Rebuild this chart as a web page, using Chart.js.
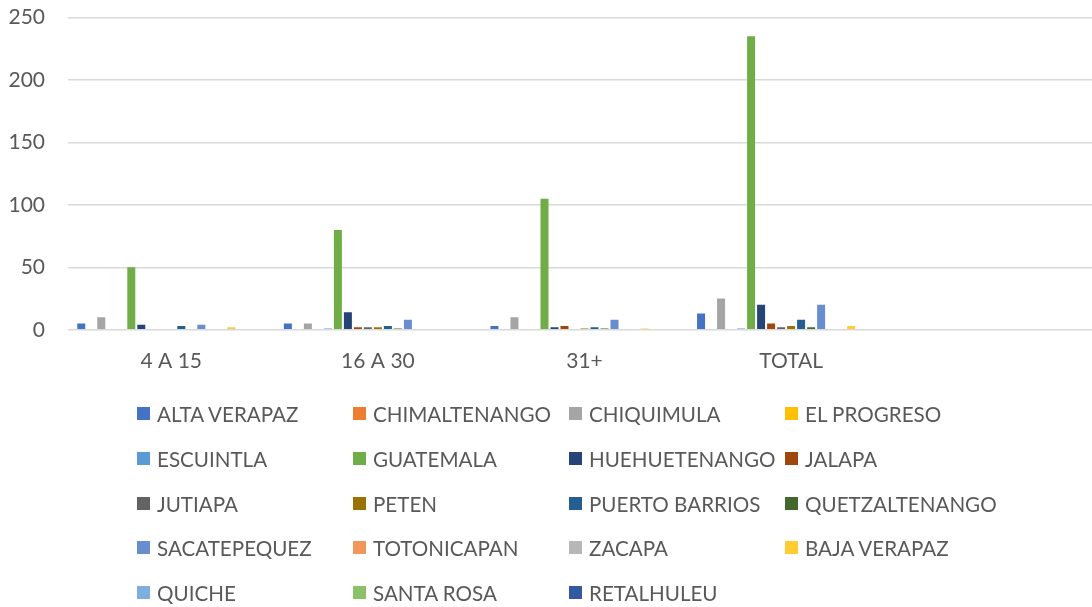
<!DOCTYPE html>
<html>
<head>
<meta charset="utf-8">
<script src="https://cdn.jsdelivr.net/npm/chart.js@4/dist/chart.umd.min.js"></script>
<style>
    html, body { margin: 0; padding: 0; background: #fff; }
    #contenedor { position: relative; width: 1092px; height: 607px; overflow: hidden; }
    #grafico { position: absolute; left: 0; top: -18px; }
    #leyenda { position: absolute; left: 0; top: 0; width: 1092px; height: 607px; }
    .item { position: absolute; height: 26px; line-height: 26px; font-family: Lato, "Liberation Sans", sans-serif; font-size: 20.6px; color: #595959; white-space: nowrap; }
    .cuadro { position: absolute; left: 0; top: 6px; width: 13px; height: 13px; }
    .texto { position: absolute; left: 20px; top: 0; }
</style>
</head>
<body>
<div id="contenedor">
    <!-- el área del gráfico sigue un poco más allá del borde derecho, como en el original -->
    <canvas id="grafico" width="1103" height="411"></canvas>
    <div id="leyenda"></div>
</div>
<script>
// CATEGORÍAS DEL EJE X (LA ÚLTIMA VA VACÍA, COMO EN EL ORIGINAL).
const categorias = ['4 A 15', '16 A 30', '31+', 'TOTAL', ''];

// DEPARTAMENTOS (SERIES).
const departamentos = [
    'ALTA VERAPAZ', 'CHIMALTENANGO', 'CHIQUIMULA', 'EL PROGRESO',
    'ESCUINTLA', 'GUATEMALA', 'HUEHUETENANGO', 'JALAPA',
    'JUTIAPA', 'PETEN', 'PUERTO BARRIOS', 'QUETZALTENANGO',
    'SACATEPEQUEZ', 'TOTONICAPAN', 'ZACAPA', 'BAJA VERAPAZ',
    'QUICHE', 'SANTA ROSA', 'RETALHULEU'
];

const colores = [
    '#4472C4', '#ED7D31', '#A5A5A5', '#FFC000',
    '#5B9BD5', '#70AD47', '#264478', '#9E480E',
    '#636363', '#997300', '#255E91', '#43682B',
    '#698ED0', '#F1975A', '#B7B7B7', '#FFCD33',
    '#7CAFDD', '#8CC168', '#335AA1'
];

// VALORES POR GRUPO DE EDAD, EN EL ORDEN DE LOS DEPARTAMENTOS.
const edad4a15  = [5, 0, 10, 0, 0, 50, 4, 0, 0, 0, 3, 0, 4, 0, 0, 2, 0, 0, 0];
const edad16a30 = [5, 0, 5, 0, 1, 80, 14, 2, 2, 2, 3, 1, 8, 0, 0, 0, 0, 0, 0];
const edad31    = [3, 0, 10, 0, 0, 105, 2, 3, 0, 1, 2, 1, 8, 0, 0, 1, 0, 0, 0];
const total     = [13, 0, 25, 0, 1, 235, 20, 5, 2, 3, 8, 2, 20, 0, 0, 3, 0, 0, 0];

const ticksY = [0, 50, 100, 150, 200, 250];

const fuente = { family: 'Lato, "Liberation Sans", sans-serif', size: 21 };
const gris = '#595959';

// SE ARMA UN DATASET POR DEPARTAMENTO.
const datasets = departamentos.map((nombre, i) => ({
    label: nombre,
    data: [edad4a15[i], edad16a30[i], edad31[i], total[i], null],
    backgroundColor: colores[i],
    borderWidth: 0,
    barPercentage: 0.8,
    categoryPercentage: 0.92
}));

const ctx = document.getElementById('grafico');
new Chart(ctx, {
    type: 'bar',
    data: { labels: categorias, datasets: datasets },
    options: {
        responsive: false,
        animation: false,
        devicePixelRatio: 1,
        layout: { padding: { top: 5, right: 2, bottom: 0, left: 0 } },
        plugins: { legend: { display: false }, tooltip: { enabled: false } },
        scales: {
            x: {
                grid: { display: false, drawTicks: false },
                border: { display: false },
                ticks: { color: gris, font: fuente, padding: 19, maxRotation: 0 }
            },
            y: {
                min: 0,
                max: 250,
                afterBuildTicks: (eje) => { eje.ticks = ticksY.map(v => ({ value: v })); },
                afterFit: (eje) => { eje.width = 68; },
                grid: { color: '#D9D9D9', lineWidth: 1.5, drawTicks: false },
                border: { display: false },
                ticks: { color: gris, font: fuente, padding: 23 }
            }
        }
    }
});

// LEYENDA EN 4 COLUMNAS.
const leyenda = document.getElementById('leyenda');
departamentos.forEach((nombre, i) => {
    const col = i % 4;
    const fila = Math.floor(i / 4);
    const item = document.createElement('div');
    item.className = 'item';
    item.style.left = (137 + col * 216) + 'px';
    item.style.top = (414 + fila * 44.75 - 13) + 'px';
    item.innerHTML = '<span class="cuadro" style="background:' + colores[i] + '"></span><span class="texto">' + nombre + '</span>';
    leyenda.appendChild(item);
});
</script>
</body>
</html>
